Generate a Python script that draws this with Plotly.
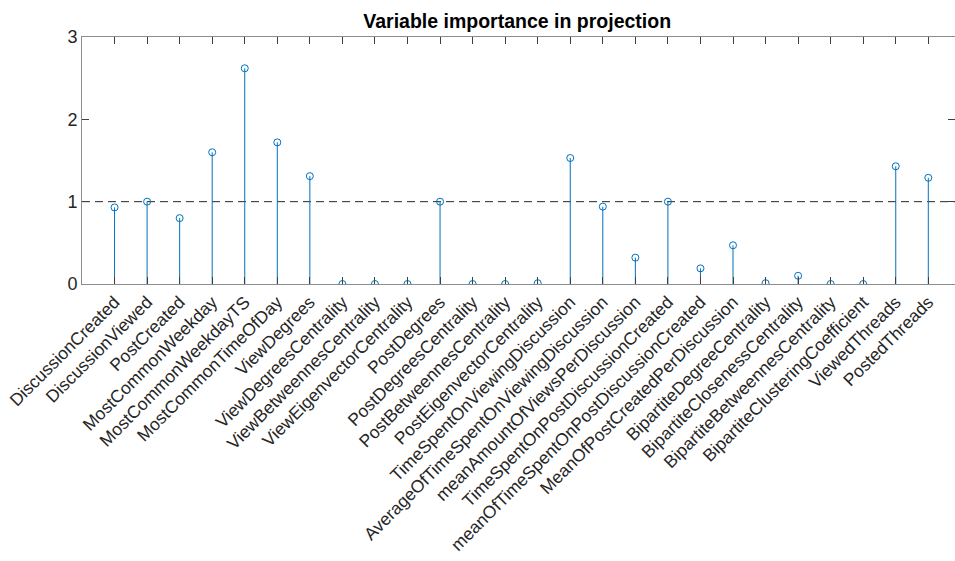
import plotly.graph_objects as go

categories = [
    "DiscussionCreated", "DiscussionViewed", "PostCreated", "MostCommonWeekday",
    "MostCommonWeekdayTS", "MostCommonTimeOfDay", "ViewDegrees", "ViewDegreesCentrality",
    "ViewBetweennesCentrality", "ViewEigenvectorCentrality", "PostDegrees",
    "PostDegreesCentrality", "PostBetweennesCentrality", "PostEigenvectorCentrality",
    "TimeSpentOnViewingDiscussion", "AverageOfTimeSpentOnViewingDiscussion",
    "meanAmountOfViewsPerDiscussion", "TimeSpentOnPostDiscussionCreated",
    "meanOfTimeSpentOnPostDiscussionCreated", "MeanOfPostCreatedPerDiscussion",
    "BipartiteDegreeCentrality", "BipartiteClosenessCentrality",
    "BipartiteBetweennesCentrality", "BipartiteClusteringCoefficient",
    "ViewedThreads", "PostedThreads",
]
vip_values = [0.93, 1.00, 0.80, 1.60, 2.62, 1.72, 1.31, 0.0, 0.0, 0.0, 1.00, 0.0, 0.0,
              0.01, 1.53, 0.94, 0.32, 1.00, 0.19, 0.47, 0.01, 0.10, 0.0, 0.0, 1.43, 1.29]
threshold = 1.0
y_ticks = [0, 1, 2, 3]

positions = list(range(1, len(categories) + 1))

stem_x, stem_y = [], []
for xp, v in zip(positions, vip_values):
    stem_x += [xp, xp, None]
    stem_y += [0, v, None]

blue = "#0072BD"
fig = go.Figure()
fig.add_trace(go.Scatter(x=[0, 27], y=[threshold, threshold], mode="lines",
                         line=dict(color="#262626", width=1, dash="8px,5px"),
                         hoverinfo="skip", showlegend=False))
fig.add_trace(go.Scatter(x=stem_x, y=stem_y, mode="lines",
                         line=dict(color=blue, width=1), showlegend=False))
fig.add_trace(go.Scatter(x=positions, y=vip_values, mode="markers",
                         marker=dict(symbol="circle-open", size=7, color=blue,
                                     line=dict(width=1, color=blue)),
                         showlegend=False))

axis_font = dict(family="Liberation Sans, Arial, sans-serif", size=17.5, color="#262626")
fig.update_layout(
    width=955, height=561,
    margin=dict(l=82, r=0, t=37, b=277),
    paper_bgcolor="white", plot_bgcolor="white",
    title=dict(text="<b>Variable importance in projection</b>",
               font=dict(family="Liberation Sans, Arial, sans-serif", size=19.5, color="black"),
               x=0.4985, xanchor="center", xref="paper", y=0.962, yanchor="middle"),
    xaxis=dict(range=[0, 26.82], tickvals=positions, ticktext=categories,
               tickangle=-45, ticks="inside", ticklen=7, tickcolor="#404040",
               showline=True, linecolor="#8c8c8c", linewidth=1, mirror="ticks",
               showgrid=False, zeroline=False, tickfont=axis_font),
    yaxis=dict(range=[0, 3], tickvals=y_ticks, ticks="inside", ticklen=7,
               tickcolor="#404040", showline=True, linecolor="#8c8c8c", linewidth=1,
               mirror="ticks", showgrid=False, zeroline=False,
               tickfont=dict(family="Liberation Sans, Arial, sans-serif", size=18, color="#262626")),
)
fig.write_html("out.html")
